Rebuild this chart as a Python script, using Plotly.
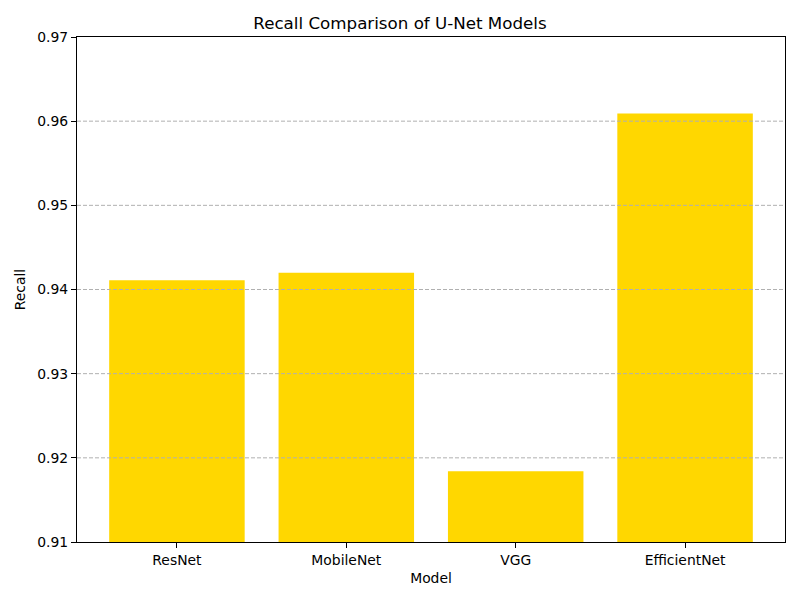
import plotly.graph_objects as go

models = ["ResNet", "MobileNet", "VGG", "EfficientNet"]
recall = [0.9411, 0.9420, 0.9184, 0.9609]
y_ticks = [0.91, 0.92, 0.93, 0.94, 0.95, 0.96, 0.97]

fig = go.Figure()
fig.add_trace(go.Bar(x=list(range(len(models))), y=recall, width=0.8,
                     marker=dict(color="#FFD700", line=dict(width=0))))

# dashed grid drawn over the bars, like the original
for t in y_ticks[1:-1]:
    fig.add_shape(type="line", xref="x domain", yref="y", x0=0, x1=1, y0=t, y1=t,
                  line=dict(color="#b0b0b0", width=1, dash="4px,2px"), layer="above")

# page body has an 8px margin, so the figure is a bit smaller than the window
fig.update_layout(
    width=792, height=592,
    paper_bgcolor="white", plot_bgcolor="white",
    font=dict(family="DejaVu Sans", size=13.9, color="black"),
    margin=dict(l=67, r=15, t=29, b=58),
    title=dict(text="Recall Comparison of U-Net Models", x=(400 - 8) / 792, xanchor="center",
               y=1 - 15 / 592, yanchor="middle", font=dict(size=16.7)),
    showlegend=False,
)
fig.update_xaxes(range=[-0.59, 3.59], tickvals=list(range(len(models))), ticktext=models,
                 showgrid=False, showline=True, linecolor="black", mirror=True,
                 ticks="outside", ticklen=5, tickcolor="black", tickfont=dict(size=13.9),
                 title=dict(text="Model", standoff=6, font=dict(size=13.9)), zeroline=False)
fig.update_yaxes(range=[0.91, 0.97], tickvals=y_ticks, tickformat=".2f",
                 showgrid=False, showline=True, linecolor="black", mirror=True,
                 ticks="outside", ticklen=5, tickcolor="black", tickfont=dict(size=13.9),
                 title=dict(text="Recall", standoff=8, font=dict(size=13.9)), zeroline=False)

fig.write_html("out.html")
